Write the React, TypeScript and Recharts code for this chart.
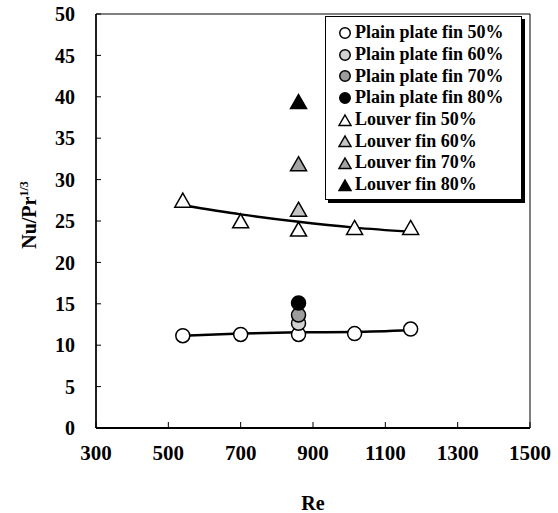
import React from 'react';
import { ComposedChart, Scatter, Line, XAxis, YAxis, Legend, ReferenceArea } from 'recharts';

// Re ticks and Nu/Pr^1/3 ticks
const reTicks = [300, 500, 700, 900, 1100, 1300, 1500];
const nuTicks = [0, 5, 10, 15, 20, 25, 30, 35, 40, 45, 50];

// 50% fins were measured over the whole Re range
const reValues = [540, 700, 860, 1015, 1170];
const plain50 = [11.15, 11.3, 11.3, 11.4, 11.95];
const louver50 = [27.4, 24.9, 23.9, 24.1, 24.1];

// trend lines
const plainFit = [11.15, 11.4, 11.55, 11.6, 11.8];
const louverFit = [26.9, 25.8, 24.9, 24.2, 23.7];

// the other fin ratios only at one Re
const singleRe = [860];
const plain60 = [12.65];
const plain70 = [13.65];
const plain80 = [15.1];
const louver60 = [26.3];
const louver70 = [31.8];
const louver80 = [39.3];

const toPoints = (xs: number[], ys: number[]) => xs.map((re, i) => ({ re, nu: ys[i] }));

type Kind = 'circle' | 'triangle';

const series: { name: string; data: { re: number; nu: number }[]; kind: Kind; fill: string }[] = [
  { name: 'Plain plate fin 50%', data: toPoints(reValues, plain50), kind: 'circle', fill: '#fff' },
  { name: 'Plain plate fin 60%', data: toPoints(singleRe, plain60), kind: 'circle', fill: '#d2d2d2' },
  { name: 'Plain plate fin 70%', data: toPoints(singleRe, plain70), kind: 'circle', fill: '#9c9c9c' },
  { name: 'Plain plate fin 80%', data: toPoints(singleRe, plain80), kind: 'circle', fill: '#000' },
  { name: 'Louver fin 50%', data: toPoints(reValues, louver50), kind: 'triangle', fill: '#fff' },
  { name: 'Louver fin 60%', data: toPoints(singleRe, louver60), kind: 'triangle', fill: '#c4c4c4' },
  { name: 'Louver fin 70%', data: toPoints(singleRe, louver70), kind: 'triangle', fill: '#a4a4a4' },
  { name: 'Louver fin 80%', data: toPoints(singleRe, louver80), kind: 'triangle', fill: '#000' },
];

const font = "'Liberation Serif', 'DejaVu Serif', 'Times New Roman', serif";

const Marker = ({ cx, cy, kind, fill, s = 1 }: any) => {
  if (cx == null || cy == null) return null;
  if (kind === 'circle') {
    return <circle cx={cx} cy={cy} r={7 * s} fill={fill} stroke="#000" strokeWidth={1.5} />;
  }
  return (
    <polygon
      points={`${cx},${cy - 8 * s} ${cx + 8 * s},${cy + 6 * s} ${cx - 8 * s},${cy + 6 * s}`}
      fill={fill}
      stroke="#000"
      strokeWidth={1.5}
    />
  );
};

const renderLegend = () => (
  <div
    style={{
      boxSizing: 'border-box',
      width: 197,
      height: 184,
      border: '1px solid #000',
      boxShadow: '3px 3px 0 #000',
      background: '#fff',
      padding: '5px 0 0 12px',
      fontFamily: font,
      fontWeight: 'bold',
      fontSize: 18,
      color: '#000',
    }}
  >
    {series.map((s) => (
      <div key={s.name} style={{ display: 'flex', alignItems: 'center', height: 21.7 }}>
        <svg width={14} height={14} style={{ marginRight: 3 }}>
          <Marker cx={7} cy={s.kind === 'circle' ? 7 : 8} kind={s.kind} fill={s.fill} s={0.75} />
        </svg>
        <span style={{ whiteSpace: 'nowrap' }}>{s.name}</span>
      </div>
    ))}
  </div>
);

const YLabel = () => (
  <text
    x={36}
    y={215}
    transform="rotate(-90 36 215)"
    textAnchor="middle"
    style={{ fontFamily: font }}
    fontWeight="bold"
    fontSize={20}
    fill="#000"
  >
    Nu/Pr
    <tspan dy={-8} fontSize={12}>
      1/3
    </tspan>
  </text>
);

const XLabel = (props: any) => {
  const vb = props.viewBox || { x: 96, y: 428, width: 434 };
  return (
    <text
      x={vb.x + vb.width / 2}
      y={vb.y + 82}
      textAnchor="middle"
      style={{ fontFamily: font }}
      fontWeight="bold"
      fontSize={20}
      fill="#000"
    >
      Re
    </text>
  );
};

const tickStyle = { fill: '#000', style: { fontFamily: font }, fontWeight: 'bold' as const };

export default function App() {
  return (
    <div style={{ position: 'absolute', left: 0, top: 0, background: '#fff', fontFamily: font }}>
      <ComposedChart width={558} height={513} margin={{ top: 14, right: 28, bottom: 0, left: 0 }}>
        <ReferenceArea x1={300} x2={1500} y1={0} y2={50} fill="none" stroke="#000" strokeWidth={1} />
        <XAxis
          type="number"
          dataKey="re"
          domain={[300, 1500]}
          ticks={reTicks}
          height={85}
          allowDataOverflow
          tickSize={-6}
          tickMargin={23}
          tick={{ ...tickStyle, fontSize: 21 }}
          axisLine={{ stroke: '#000', strokeWidth: 2 }}
          tickLine={{ stroke: '#000', strokeWidth: 1 }}
          label={{ content: XLabel }}
        />
        <YAxis
          type="number"
          dataKey="nu"
          domain={[0, 50]}
          ticks={nuTicks}
          width={96}
          allowDataOverflow
          tickSize={-5}
          tickMargin={26}
          tick={{ ...tickStyle, fontSize: 20 }}
          axisLine={{ stroke: '#000', strokeWidth: 1.5 }}
          tickLine={{ stroke: '#000', strokeWidth: 1 }}
          label={{ content: YLabel }}
        />
        {series.map((s) => (
          <Scatter
            key={s.name}
            name={s.name}
            data={s.data}
            dataKey="nu"
            isAnimationActive={false}
            shape={(p: any) => <Marker cx={p.cx} cy={p.cy} kind={s.kind} fill={s.fill} />}
          />
        ))}
        <Line
          data={toPoints(reValues, plainFit)}
          dataKey="nu"
          type="monotone"
          stroke="#000"
          strokeWidth={2.5}
          dot={false}
          legendType="none"
          isAnimationActive={false}
        />
        <Line
          data={toPoints(reValues, louverFit)}
          dataKey="nu"
          type="monotone"
          stroke="#000"
          strokeWidth={2.5}
          dot={false}
          legendType="none"
          isAnimationActive={false}
        />
        <Legend
          layout="vertical"
          align="center"
          verticalAlign="middle"
          content={renderLegend}
          wrapperStyle={{ left: 325, top: 16, width: 197, height: 184 }}
        />
      </ComposedChart>
    </div>
  );
}
